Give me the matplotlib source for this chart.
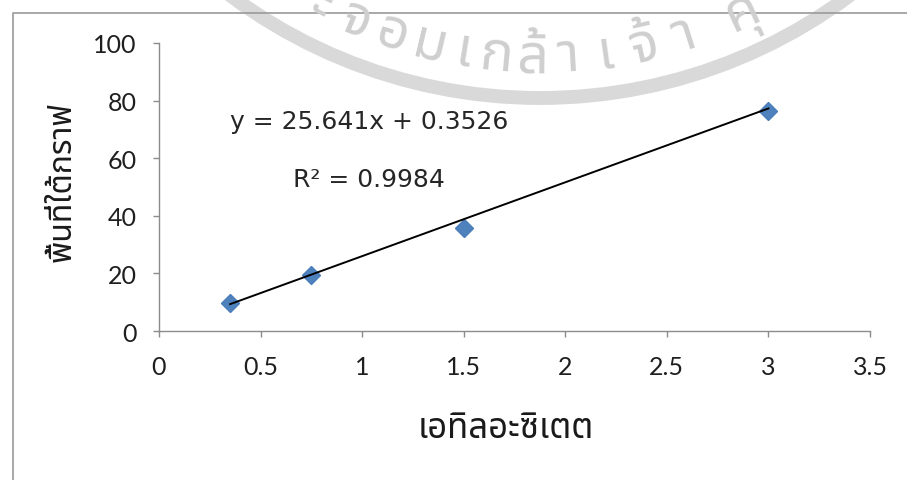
import numpy as np
import matplotlib
matplotlib.use("Agg")
import matplotlib.pyplot as plt
from matplotlib import font_manager
from matplotlib.ft2font import FT2Font
from matplotlib.patches import Circle

# calibration: ethyl acetate vs. peak area
x_vals = [0.35, 0.75, 1.5, 3.0]
y_vals = [9.6, 19.5, 35.8, 76.3]
slope = 25.641
intercept = 0.3526
r_squared = 0.9984

x_ticks = [0, 0.5, 1, 1.5, 2, 2.5, 3, 3.5]
x_tick_labels = ["0", "0.5", "1", "1.5", "2", "2.5", "3", "3.5"]
y_ticks = [0, 20, 40, 60, 80, 100]
y_tick_labels = ["0", "20", "40", "60", "80", "100"]

x_label = "เอทิลอะซิเตต"
y_label = "พื้นที่ใต้กราฟ"
# scanned watermark (only a part of the seal is visible)
watermark = ["ะ", "จ", "อ", "ม", "เ", "ก", "ล้", "า", "เ", "จ้", "า", "คุ"]


def find_thai_font():
    names = []
    for f in font_manager.fontManager.ttflist:
        try:
            if 0x0E01 in FT2Font(f.fname).get_charmap():
                names.append(f.name)
        except Exception:
            continue
    for pref in ["Noto Sans Thai", "Noto Sans Thai UI", "Loma", "Garuda",
                 "Sarabun", "Tlwg Typo", "Norasi"]:
        if pref in names:
            return pref
    return names[0] if names else "DejaVu Sans"


thai = [find_thai_font(), "DejaVu Sans"]
plt.rcParams["font.family"] = ["Lato", "DejaVu Sans"]

W, H = 907, 481
fig = plt.figure(figsize=(W / 100, H / 100), dpi=100)


def fx(px):
    return px / W


def fy(py):
    return 1 - py / H


# background layer in pixel units: chart frame + watermark
bg = fig.add_axes([0, 0, 1, 1], zorder=0)
bg.set_xlim(0, W)
bg.set_ylim(H, 0)
bg.axis("off")
bg.plot([13, 13, W], [H, 14, 14], color="#9a9a9a", lw=1.2)

cx, cy = 540, -420
bg.add_patch(Circle((cx, cy), 519, fill=False, ec="#d9d9d9", lw=10))
r_txt = 478
wm_x = [322, 356, 392, 430, 464, 496, 532, 568, 606, 644, 684, 742]
for ch, x in zip(watermark, wm_x):
    phi = np.arcsin((x - cx) / r_txt)
    bg.text(cx + r_txt * np.sin(phi), cy + r_txt * np.cos(phi), ch,
            rotation=np.degrees(phi), rotation_mode="anchor",
            ha="center", va="center", fontsize=40, fontweight="bold",
            color="#cfcfcf", family=thai)

ax = fig.add_axes([fx(159), fy(332), fx(870) - fx(159), fy(44) - fy(332)], zorder=1)
ax.patch.set_alpha(0)

ax.plot(x_vals, y_vals, linestyle="none", marker="D", ms=9,
        mfc="#4F81BD", mec="#4A7EBB", zorder=2)
xs = np.array([min(x_vals), max(x_vals)])
ax.plot(xs, slope * xs + intercept, color="black", lw=1.4, zorder=3)

ax.set_xlim(0, 3.5)
ax.set_ylim(0, 100)
ax.set_xticks(x_ticks, x_tick_labels)
ax.set_yticks(y_ticks, y_tick_labels)
for s in ["top", "right"]:
    ax.spines[s].set_visible(False)
for s in ["left", "bottom"]:
    ax.spines[s].set_color("#8c8c8c")
    ax.spines[s].set_linewidth(1.0)
ax.tick_params(direction="out", length=4, width=1, color="#8c8c8c",
               labelsize=18, labelcolor="#1f1f1f")
ax.tick_params(axis="y", pad=12)
ax.tick_params(axis="x", pad=13)

ax.set_xlabel(x_label, fontsize=25, family=thai, color="#1a1a1a",
              va="center")
ax.xaxis.set_label_coords((506 - 159) / 711, (332 - 429) / 288)
ax.set_ylabel(y_label, fontsize=23, family=thai, color="#1a1a1a",
              fontweight="bold", va="center", ha="center",
              rotation_mode="default")
ax.yaxis.set_label_coords((62 - 159) / 711, (332 - 182) / 288)

fig.text(fx(369), fy(129), f"y = {slope}x + {intercept}", ha="center",
         va="baseline", fontsize=18, family="DejaVu Sans", color="#262626")
fig.text(fx(369), fy(187), f"R² = {r_squared}", ha="center",
         va="baseline", fontsize=18, family="DejaVu Sans", color="#262626")

fig.savefig("out.png", dpi=100)
